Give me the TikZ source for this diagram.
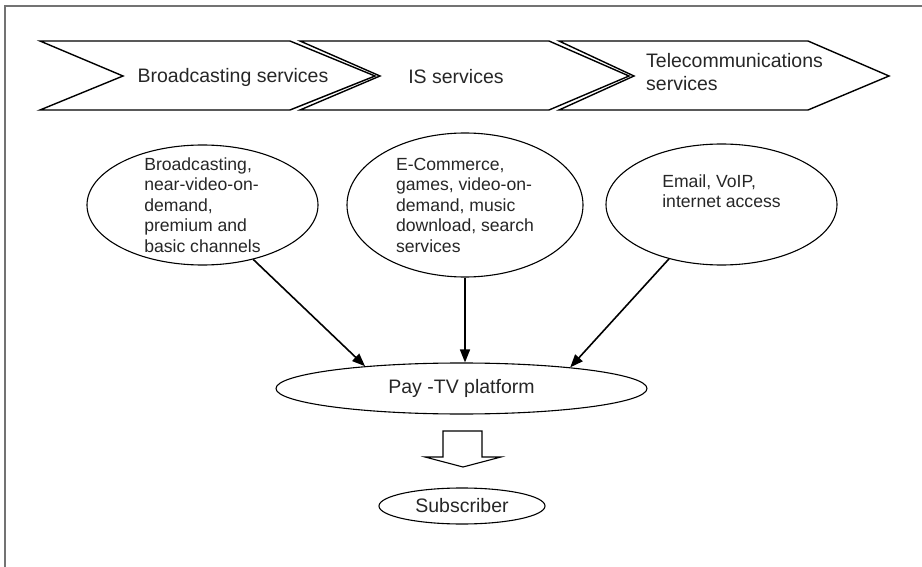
\documentclass[tikz,border=0pt]{standalone}
\usepackage{fontspec}
\setmainfont{Liberation Sans}
\usetikzlibrary{arrows.meta,shapes.geometric}
\begin{document}
\begin{tikzpicture}[x=1pt,y=-1pt,
  chev/.style={draw=black,line width=1.4pt,line join=miter},
  bub/.style={draw=black,line width=1.1pt,ellipse,inner sep=0pt},
  bigtxt/.style={font=\fontsize{19.5}{23}\selectfont,text=black!85,inner sep=0pt},
  smalltxt/.style={font=\fontsize{17.6}{20.5}\selectfont,text=black!85,align=left,inner sep=0pt},
  conn/.style={line width=1.6pt,-{Triangle[length=13pt,width=10pt]}},
  frameline/.style={draw=black!55,line width=2pt}]
\useasboundingbox (0,0) rectangle (922,567);
\draw[frameline] (5,567) -- (5,6) -- (922,6);
% chevrons
\draw[chev] (40,41) -- (290,41) -- (375,76) -- (290,110) -- (40,110) -- (123,76) -- cycle;
\draw[chev] (300,41) -- (549,41) -- (629,76) -- (549,110) -- (300,110) -- (380,76) -- cycle;
\draw[chev] (559,41) -- (808,41) -- (889,76) -- (808,110) -- (559,110) -- (634,76) -- cycle;
\node[bigtxt] (c1) at (233,77) {Broadcasting services};
\node[bigtxt] (c2) at (456,77) {IS services};
\node[bigtxt,align=left,anchor=west] (c3) at (646,72) {Telecommunications\\services};
% ellipses
\node[bub,minimum width=231pt,minimum height=120pt] (e1) at (202.5,205) {};
\node[smalltxt] (e1t) at (e1.center) {Broadcasting,\\near-video-on-\\demand,\\premium and\\basic channels};
\node[bub,minimum width=236pt,minimum height=144pt] (e2) at (465,205) {};
\node[smalltxt] (e2t) at (e2.center) {E-Commerce,\\games, video-on-\\demand, music\\download, search\\services};
\node[bub,minimum width=231pt,minimum height=121pt] (e3) at (721.5,204.5) {};
\node[smalltxt] (e3t) at (e3.center) {Email, VoIP,\\internet access\\\strut};
\node[bub,bigtxt,minimum width=371pt,minimum height=51pt] (pay) at (461.5,388.5) {Pay -TV platform};
\node[bub,bigtxt,minimum width=166pt,minimum height=36pt] (sub) at (462,506) {Subscriber};
% connectors
\draw[conn] (e1.-47) -- (pay.167);
\draw[conn] (e2.south) -- (e2.south |- pay.north);
\draw[conn] (e3.-134) -- (pay.11);
% block arrow
\draw[line width=1.1pt,line join=miter] (443,431) -- (482,431) -- (482,457) -- (501,457) -- (463,467) -- (425,457) -- (443,457) -- cycle;
\end{tikzpicture}
\end{document}
